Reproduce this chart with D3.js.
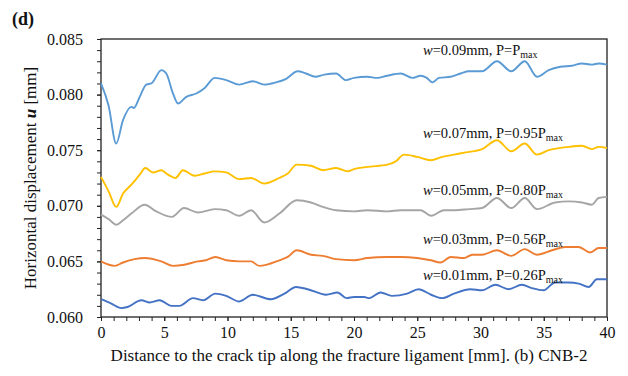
<!DOCTYPE html>
<html>
<head>
<meta charset="utf-8">
<script src="https://cdn.jsdelivr.net/npm/d3@7"></script>
<style>
  body { margin: 0; background: #fff; }
  svg { display: block; font-family: "Liberation Serif", "Times New Roman", serif; }
</style>
</head>
<body>
<svg id="chart" width="628" height="376"></svg>
<script>
// distance along ligament [mm], horizontal displacement u [mm]
const w09 = [[0,0.0810],[0.6,0.0790],[1.2,0.0756],[1.74,0.0777],[2.4,0.0789],[2.6,0.0788],[3.06,0.0798],[3.58,0.0809],[3.98,0.0810],[4.77,0.0822],[5.16,0.0819],[5.69,0.0801],[6.09,0.0792],[6.74,0.0798],[7.53,0.0801],[8.2,0.0806],[8.99,0.0815],[9.9,0.0813],
  [10.93,0.0809],[11.99,0.0812],[12.9,0.0809],[13.83,0.0811],[14.6,0.0814],[15.55,0.0821],[16.2,0.0819],[16.94,0.0816],[17.65,0.0818],[18.58,0.0819],[19.37,0.0813],[20.0,0.0815],
  [21.05,0.0816],[21.84,0.0815],[22.63,0.0817],[23.69,0.0819],[24.61,0.0815],[25.27,0.0817],[25.75,0.0815],[26.19,0.0811],[26.72,0.0815],[27.64,0.0816],[28.43,0.0819],[29.09,0.0821],[30.12,0.0821],
  [31.3,0.0830],[32.43,0.0821],[33.5,0.0830],[34.47,0.0816],[35.39,0.0822],[36.31,0.0825],[37.23,0.0826],[38.02,0.0828],[38.81,0.0827],[39.34,0.0828],[40,0.0827]];

const w07 = [[0,0.0726],[0.6,0.0713],[1.21,0.0699],[1.74,0.0711],[2.4,0.0719],[3.06,0.0728],[3.5,0.0734],[4.11,0.0730],[4.77,0.0732],[5.3,0.0728],[5.88,0.0725],[6.48,0.0732],[7.4,0.0727],[8.2,0.0729],[8.99,0.0731],[9.9,0.0730],
  [10.93,0.0724],[11.86,0.0725],[12.9,0.0720],[14.1,0.0725],[14.76,0.0729],[15.47,0.0737],[16.6,0.0736],[17.53,0.0732],[18.58,0.0734],[19.5,0.0731],[20.0,0.0733],
  [21.05,0.0735],[22.63,0.0737],[23.3,0.0740],[23.95,0.0746],[25.0,0.0744],[26.06,0.0741],[26.98,0.0744],[27.9,0.0746],[28.83,0.0748],[30.12,0.0751],
  [31.3,0.0759],[32.43,0.0749],[33.5,0.0756],[34.47,0.0746],[35.39,0.0750],[36.97,0.0753],[38.02,0.0754],[38.81,0.0751],[39.34,0.0753],[40,0.0752]];

const w05 = [[0,0.0692],[0.6,0.0688],[1.21,0.0683],[1.74,0.0687],[2.4,0.0693],[3.45,0.0701],[4.37,0.0695],[5.61,0.0690],[6.56,0.0698],[7.66,0.0694],[8.99,0.0697],[9.9,0.0696],
  [10.93,0.0691],[11.86,0.0696],[12.9,0.0685],[14.1,0.0693],[15.47,0.0705],[16.6,0.0703],[17.53,0.0699],[18.58,0.0696],[20.0,0.0695],
  [21.05,0.0696],[22.63,0.0695],[23.69,0.0696],[25.27,0.0696],[26.1,0.0691],[27.1,0.0696],[27.9,0.0696],[29.1,0.0697],[30.12,0.0698],
  [31.3,0.0707],[32.43,0.0698],[33.5,0.0707],[34.47,0.0697],[35.9,0.0703],[36.97,0.0704],[38.02,0.0703],[38.81,0.0701],[39.34,0.0707],[40,0.0708]];

const w03 = [[0,0.0650],[1.08,0.0646],[1.74,0.0649],[2.66,0.0652],[3.45,0.0653],[4.77,0.0650],[5.69,0.0646],[6.6,0.0647],[7.66,0.0650],[8.3,0.0651],[9.04,0.0654],[9.9,0.0651],
  [10.93,0.0650],[11.86,0.0650],[12.5,0.0646],[14.1,0.0651],[14.76,0.0654],[15.47,0.0660],[16.6,0.0656],[17.53,0.0655],[18.58,0.0652],[20.0,0.0651],
  [21.05,0.0653],[22.63,0.0654],[23.69,0.0654],[25.0,0.0653],[26.06,0.0651],[26.85,0.0649],[27.64,0.0654],[28.7,0.0653],[29.35,0.0656],[30.12,0.0656],
  [31.3,0.0660],[32.43,0.0655],[33.5,0.0661],[34.47,0.0656],[35.66,0.0660],[36.7,0.0663],[37.76,0.0663],[38.68,0.0658],[39.34,0.0662],[40,0.0662]];

const w01 = [[0,0.0616],[0.82,0.0612],[1.6,0.0608],[2.1,0.0609],[3.19,0.0615],[3.85,0.0613],[4.64,0.0615],[5.56,0.0610],[6.2,0.0610],[7.27,0.0617],[8.06,0.0615],[9.04,0.0621],[9.9,0.0619],
  [10.93,0.0614],[11.99,0.0620],[13.43,0.0616],[14.5,0.0621],[15.42,0.0627],[16.34,0.0625],[17.8,0.0620],[18.7,0.0622],[19.4,0.0617],[20.0,0.0618],
  [20.8,0.0618],[21.2,0.0617],[22.1,0.0622],[23.0,0.0619],[24.2,0.0621],[25.1,0.0625],[26.1,0.0620],[26.98,0.0617],[27.9,0.0621],[29.2,0.0625],[30.12,0.0624],
  [31.17,0.0629],[32.22,0.0625],[33.27,0.0629],[34.06,0.0626],[34.98,0.0624],[35.9,0.0631],[36.97,0.0631],[37.76,0.0630],[38.55,0.0627],[39.2,0.0634],[40,0.0634]];

const seriesNames = ['0.09', '0.07', '0.05', '0.03', '0.01'];
const loadLabels = ['P', '0.95P', '0.80P', '0.56P', '0.26P'];
const xTicks = [0, 5, 10, 15, 20, 25, 30, 35, 40];
const yTicks = [0.060, 0.065, 0.070, 0.075, 0.080, 0.085];

const series = [
  { name: seriesNames[0], load: loadLabels[0], data: w09, color: '#5b9bd5', labelY: 55 },
  { name: seriesNames[1], load: loadLabels[1], data: w07, color: '#ffc000', labelY: 138 },
  { name: seriesNames[2], load: loadLabels[2], data: w05, color: '#a5a5a5', labelY: 195 },
  { name: seriesNames[3], load: loadLabels[3], data: w03, color: '#ed7d31', labelY: 244 },
  { name: seriesNames[4], load: loadLabels[4], data: w01, color: '#4472c4', labelY: 280 }
];

const serif = 'Liberation Serif, Times New Roman, serif';
const margin = { top: 39, right: 21, bottom: 59, left: 101 };
const width = 628, height = 376;
const svg = d3.select('#chart');

const x = d3.scaleLinear().domain([0, 40]).range([margin.left, width - margin.right]);
const y = d3.scaleLinear().domain([0.060, 0.085]).range([height - margin.bottom, margin.top]);

// minor ticks
svg.append('g')
  .attr('transform', `translate(0,${height - margin.bottom})`)
  .call(d3.axisBottom(x).tickValues(d3.range(0, 41, 1)).tickSize(4).tickFormat(''))
  .call(g => g.select('.domain').remove());

svg.append('g')
  .attr('transform', `translate(${margin.left},0)`)
  .call(d3.axisLeft(y).tickValues(d3.range(0, 26).map(i => 0.060 + i * 0.001)).tickSize(4).tickFormat(''))
  .call(g => g.select('.domain').remove());

// major ticks + labels
const xAxis = svg.append('g')
  .attr('transform', `translate(0,${height - margin.bottom})`)
  .call(d3.axisBottom(x).tickValues(xTicks).tickSize(4).tickPadding(6).tickFormat(d3.format('d')))
  .attr('font-family', serif)
  .attr('font-size', 16);
xAxis.select('.domain').remove();
xAxis.selectAll('text').attr('fill', '#111');

const yAxis = svg.append('g')
  .attr('transform', `translate(${margin.left},0)`)
  .call(d3.axisLeft(y).tickValues(yTicks).tickSize(4).tickPadding(14).tickFormat(d3.format('.3f')))
  .attr('font-family', serif)
  .attr('font-size', 16);
yAxis.select('.domain').remove();
yAxis.selectAll('text').attr('fill', '#111');

svg.selectAll('.tick line').attr('stroke', '#222');

// plot frame
svg.append('rect')
  .attr('x', margin.left)
  .attr('y', margin.top)
  .attr('width', width - margin.right - margin.left)
  .attr('height', height - margin.bottom - margin.top)
  .attr('fill', 'none')
  .attr('stroke', '#222')
  .attr('stroke-width', 1.3);

const line = d3.line()
  .x(d => x(d[0]))
  .y(d => y(d[1]))
  .curve(d3.curveMonotoneX);

series.forEach(s => {
  svg.append('path')
    .attr('d', line(s.data))
    .attr('fill', 'none')
    .attr('stroke', s.color)
    .attr('stroke-width', 1.9)
    .attr('stroke-linejoin', 'round');
});

// series labels
series.forEach(s => {
  const t = svg.append('text')
    .attr('x', 423)
    .attr('y', s.labelY)
    .attr('font-size', 14.5)
    .attr('fill', '#111');
  t.append('tspan').attr('font-style', 'italic').text('w');
  t.append('tspan').text(`=${s.name}mm, P=${s.load}`);
  t.append('tspan').attr('font-size', 10).attr('dy', 3).text('max');
});

// axis titles
const yTitle = svg.append('text')
  .attr('transform', `translate(36,${(margin.top + height - margin.bottom) / 2}) rotate(-90)`)
  .attr('text-anchor', 'middle')
  .attr('font-size', 17)
  .attr('fill', '#111');
yTitle.append('tspan').text('Horizontal displacement ');
yTitle.append('tspan').attr('font-style', 'italic').attr('font-weight', 'bold').text('u');
yTitle.append('tspan').text(' [mm]');

svg.append('text')
  .attr('x', (margin.left + width - margin.right) / 2 - 5)
  .attr('y', 361)
  .attr('text-anchor', 'middle')
  .attr('font-size', 17)
  .attr('fill', '#111')
  .text('Distance to the crack tip along the fracture ligament [mm]. (b) CNB-2');

svg.append('text')
  .attr('x', 12)
  .attr('y', 25)
  .attr('font-size', 18)
  .attr('font-weight', 'bold')
  .attr('fill', '#111')
  .text('(d)');
</script>
</body>
</html>
